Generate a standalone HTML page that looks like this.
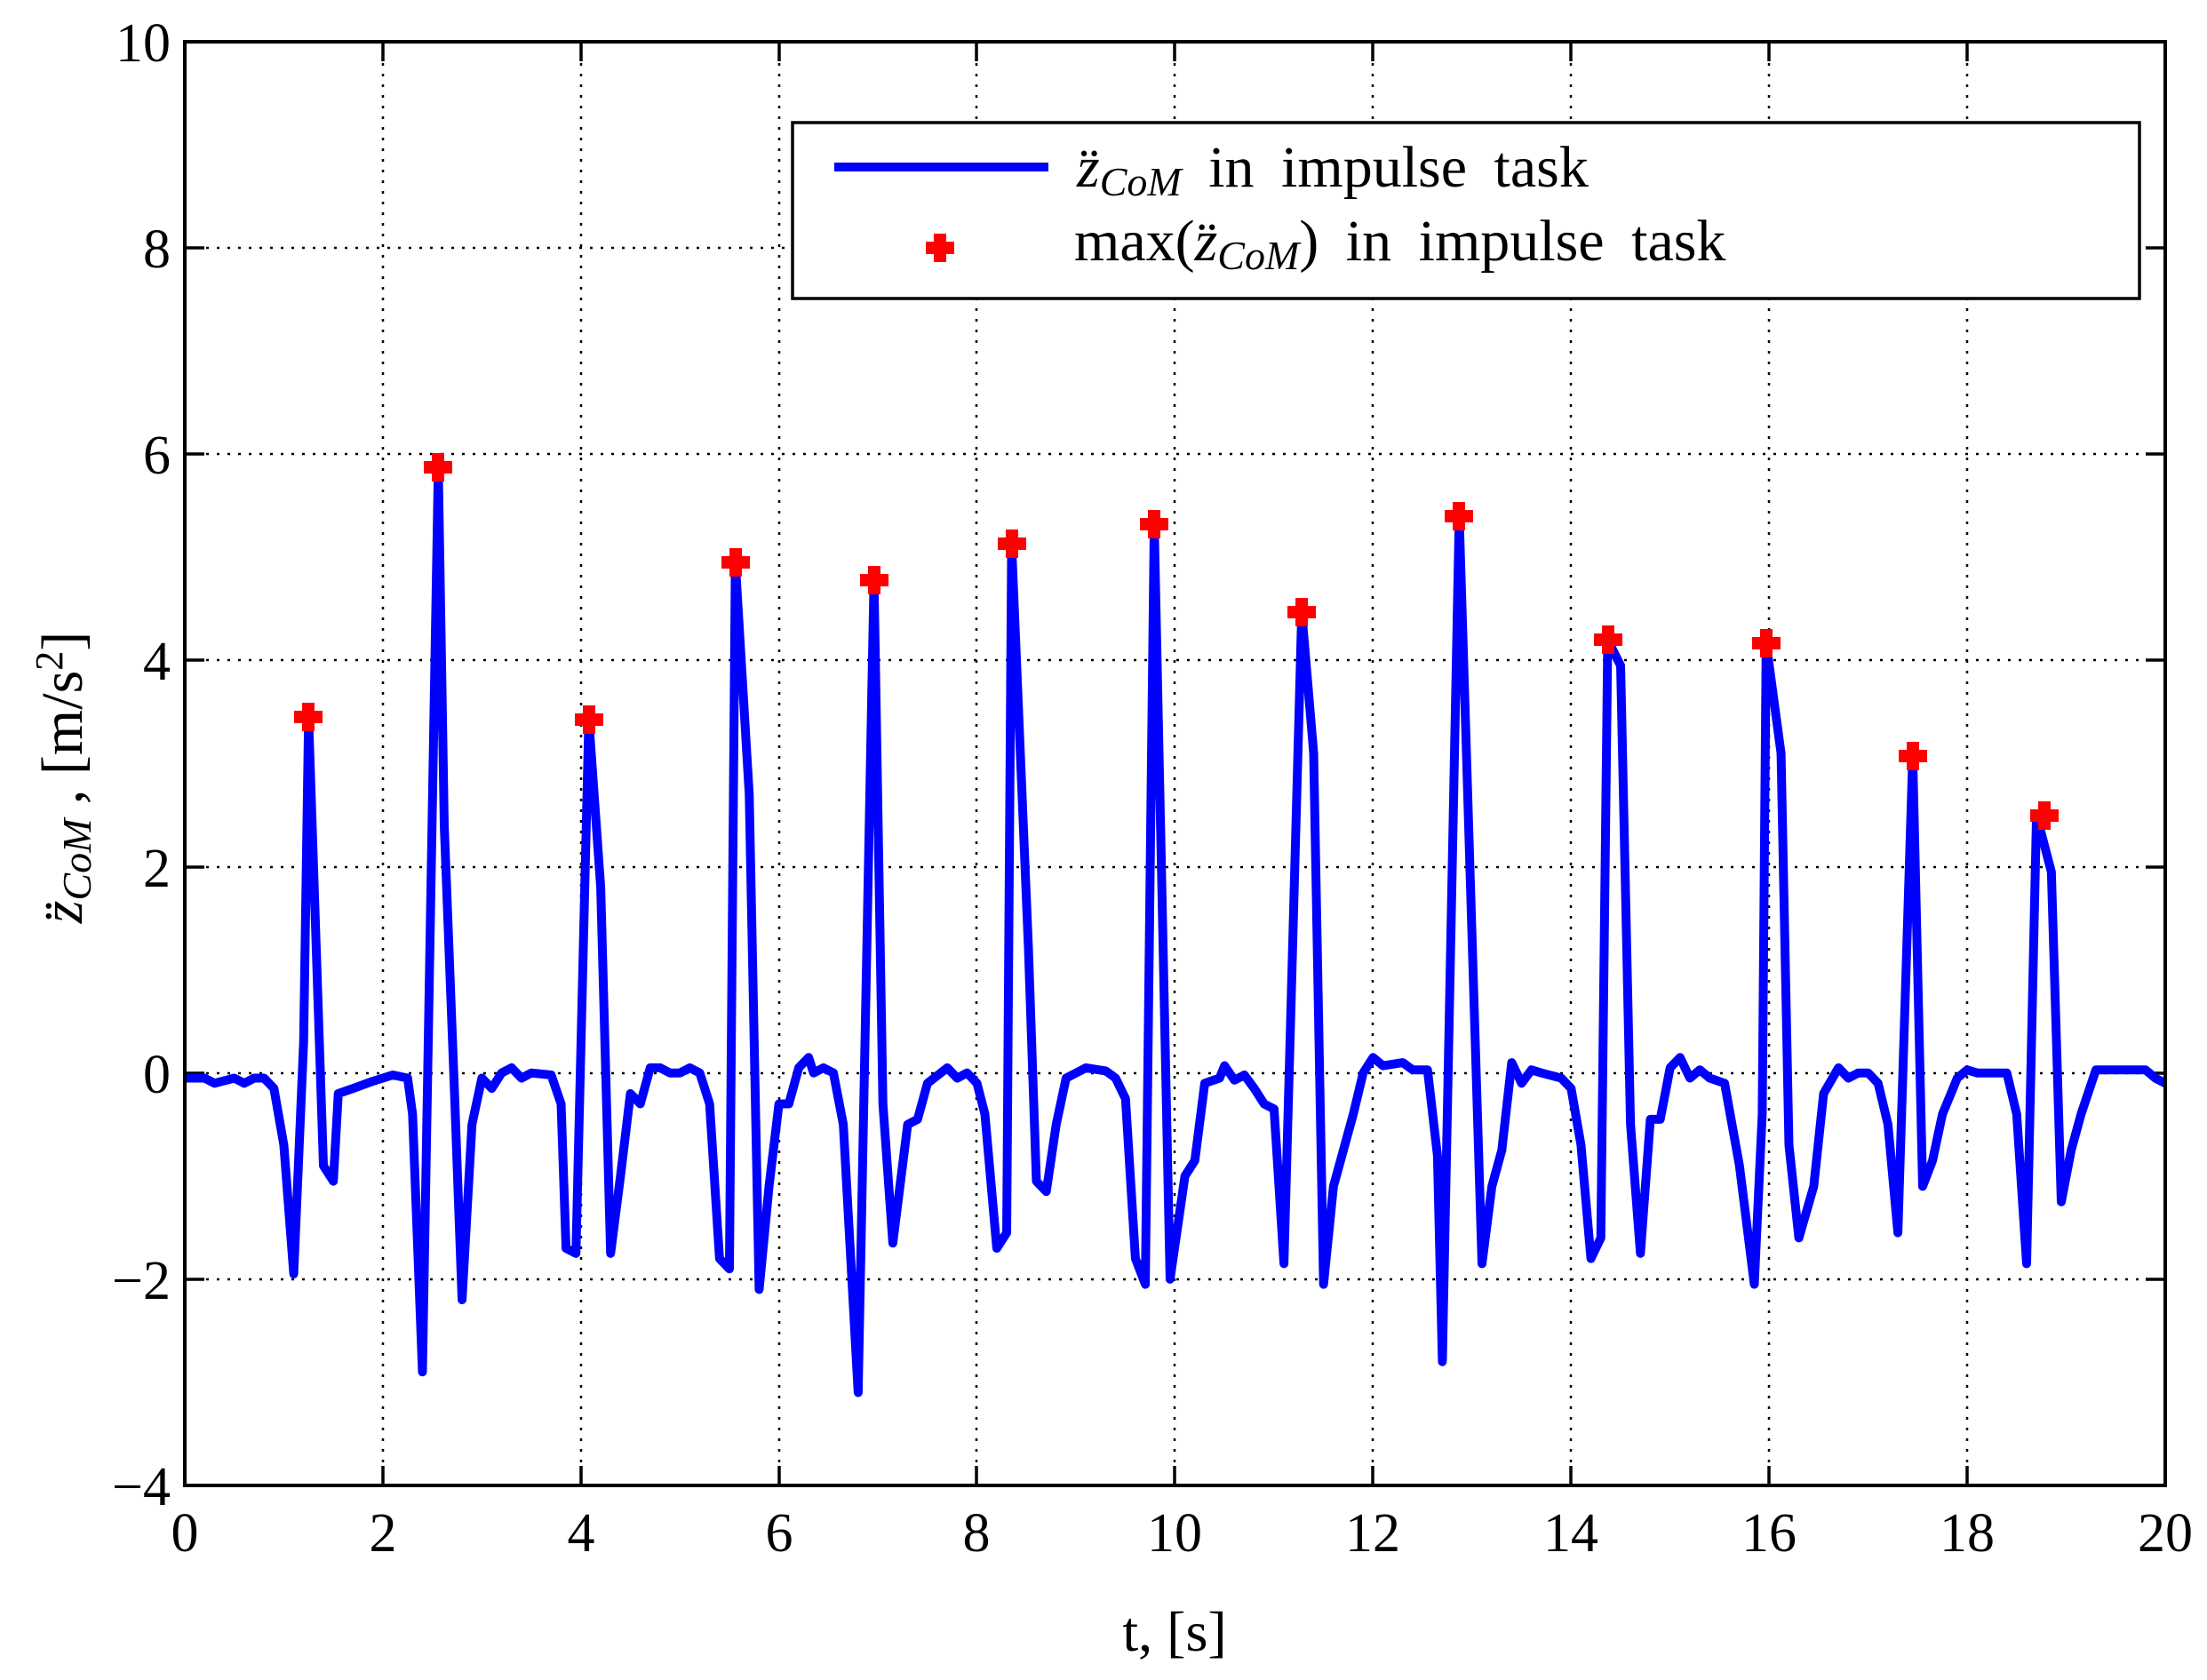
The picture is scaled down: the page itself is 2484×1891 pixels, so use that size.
<!DOCTYPE html>
<html><head><meta charset="utf-8"><style>
html,body{margin:0;padding:0;background:#fff;}
svg{display:block;}
text{font-family:"Liberation Serif",serif;fill:#000;}
</style></head><body>
<svg width="2484" height="1891" viewBox="0 0 2484 1891" xmlns="http://www.w3.org/2000/svg">
<rect width="2484" height="1891" fill="#fff"/>
<g stroke="#000" stroke-width="2.5" stroke-dasharray="3,9">
<line x1="431" y1="47" x2="431" y2="1672"/><line x1="654" y1="47" x2="654" y2="1672"/>
<line x1="877" y1="47" x2="877" y2="1672"/><line x1="1099" y1="47" x2="1099" y2="1672"/>
<line x1="1322" y1="47" x2="1322" y2="1672"/><line x1="1545" y1="47" x2="1545" y2="1672"/>
<line x1="1768" y1="47" x2="1768" y2="1672"/><line x1="1991" y1="47" x2="1991" y2="1672"/>
<line x1="2214" y1="47" x2="2214" y2="1672"/>
<line x1="208" y1="279" x2="2437" y2="279"/><line x1="208" y1="511" x2="2437" y2="511"/>
<line x1="208" y1="743" x2="2437" y2="743"/><line x1="208" y1="976" x2="2437" y2="976"/>
<line x1="208" y1="1208" x2="2437" y2="1208"/><line x1="208" y1="1440" x2="2437" y2="1440"/>
</g>
<g stroke="#000" stroke-width="3.5">
<path d="M431 1672v-22M654 1672v-22M877 1672v-22M1099 1672v-22M1322 1672v-22M1545 1672v-22M1768 1672v-22M1991 1672v-22M2214 1672v-22"/>
<path d="M431 47v22M654 47v22M877 47v22M1099 47v22M1322 47v22M1545 47v22M1768 47v22M1991 47v22M2214 47v22"/>
<path d="M208 279h22M208 511h22M208 743h22M208 976h22M208 1208h22M208 1440h22"/>
<path d="M2437 279h-22M2437 511h-22M2437 743h-22M2437 976h-22M2437 1208h-22M2437 1440h-22"/>
</g>
<g transform="translate(208,1207.7) scale(111.45,-116.07)">
<polyline fill="none" stroke="#0000ff" stroke-width="10" stroke-linejoin="round" vector-effect="non-scaling-stroke"
points="0,-0.05 0.2,-0.05 0.3,-0.1 0.5,-0.05 0.6,-0.1 0.7,-0.05 0.8,-0.05 0.9,-0.15 1.0,-0.7 1.1,-1.95 1.2,0.3 1.25,3.45 1.4,-0.9 1.5,-1.05 1.55,-0.2 1.7,-0.15 1.9,-0.08 2.1,-0.02 2.25,-0.05 2.3,-0.4 2.4,-2.9 2.56,5.87 2.62,2.4 2.72,-0.1 2.8,-2.2 2.9,-0.5 3.0,-0.05 3.1,-0.15 3.2,0.0 3.3,0.05 3.4,-0.05 3.5,0 3.7,-0.02 3.8,-0.3 3.85,-1.7 3.95,-1.75 4.08,3.43 4.2,1.8 4.3,-1.75 4.4,-1 4.5,-0.2 4.6,-0.3 4.7,0.05 4.8,0.05 4.9,0 5.0,0 5.1,0.05 5.2,0 5.3,-0.3 5.4,-1.8 5.5,-1.9 5.56,4.95 5.7,2.7 5.8,-2.1 5.9,-1.1 6.0,-0.3 6.1,-0.3 6.2,0.05 6.3,0.15 6.35,0 6.45,0.05 6.55,0 6.65,-0.5 6.8,-3.1 6.96,4.78 7.05,-0.3 7.15,-1.65 7.3,-0.5 7.4,-0.45 7.5,-0.1 7.7,0.05 7.8,-0.05 7.9,0 8.0,-0.1 8.08,-0.4 8.2,-1.7 8.3,-1.55 8.35,5.13 8.52,1.2 8.6,-1.05 8.7,-1.15 8.8,-0.5 8.9,-0.05 9.1,0.05 9.3,0.02 9.4,-0.05 9.5,-0.25 9.6,-1.8 9.7,-2.05 9.79,5.32 9.95,-2.0 10.1,-1 10.2,-0.85 10.3,-0.1 10.45,-0.05 10.5,0.07 10.6,-0.07 10.7,-0.02 10.8,-0.15 10.9,-0.3 11.0,-0.35 11.1,-1.85 11.28,4.47 11.4,3.1 11.5,-2.05 11.6,-1.1 11.8,-0.4 11.9,0 12.0,0.15 12.1,0.07 12.3,0.1 12.4,0.03 12.55,0.03 12.65,-0.8 12.7,-2.8 12.87,5.4 13.1,-1.85 13.2,-1.1 13.3,-0.75 13.4,0.1 13.5,-0.1 13.6,0.03 13.7,0 13.9,-0.05 14.0,-0.15 14.1,-0.7 14.2,-1.8 14.3,-1.6 14.37,4.2 14.5,3.95 14.6,-0.5 14.7,-1.75 14.8,-0.45 14.9,-0.45 15.0,0.05 15.1,0.15 15.2,-0.05 15.3,0.03 15.4,-0.05 15.55,-0.1 15.7,-0.9 15.85,-2.05 15.93,-0.4 15.97,4.17 16.12,3.1 16.2,-0.7 16.3,-1.6 16.45,-1.1 16.55,-0.2 16.7,0.05 16.8,-0.05 16.9,0 17.0,0 17.1,-0.1 17.2,-0.5 17.3,-1.55 17.45,3.07 17.55,-1.1 17.65,-0.85 17.75,-0.4 17.9,-0.05 18.0,0.03 18.1,0 18.4,0 18.5,-0.4 18.6,-1.85 18.7,2.5 18.85,1.95 18.95,-1.25 19.05,-0.75 19.15,-0.4 19.3,0.03 19.6,0.03 19.8,0.03 19.9,-0.05 20,-0.1"/>
</g>
<defs><path id="m" d="M-7,-16h14v9h9v14h-9v9h-14v-9h-9v-14h9z" fill="#ff0000"/></defs>
<use href="#m" x="347" y="807"/><use href="#m" x="493" y="526"/><use href="#m" x="663" y="810"/>
<use href="#m" x="828" y="633"/><use href="#m" x="984" y="653"/><use href="#m" x="1139" y="612"/>
<use href="#m" x="1299" y="590"/><use href="#m" x="1465" y="689"/><use href="#m" x="1642" y="581"/>
<use href="#m" x="1810" y="720"/><use href="#m" x="1988" y="724"/><use href="#m" x="2153" y="851"/>
<use href="#m" x="2301" y="918"/>
<rect x="208" y="47" width="2229" height="1625" fill="none" stroke="#000" stroke-width="4"/>
<g font-size="62" text-anchor="end">
<text x="192" y="69">10</text><text x="192" y="301">8</text><text x="192" y="533">6</text>
<text x="192" y="765">4</text><text x="192" y="998">2</text><text x="192" y="1230">0</text>
<text x="192" y="1462">−2</text><text x="192" y="1694">−4</text>
</g>
<g font-size="62" text-anchor="middle">
<text x="208" y="1746">0</text><text x="431" y="1746">2</text><text x="654" y="1746">4</text>
<text x="877" y="1746">6</text><text x="1099" y="1746">8</text><text x="1322" y="1746">10</text>
<text x="1545" y="1746">12</text><text x="1768" y="1746">14</text><text x="1991" y="1746">16</text>
<text x="2214" y="1746">18</text><text x="2437" y="1746">20</text>
</g>
<text x="1322" y="1858" font-size="64" text-anchor="middle">t, [s]</text>
<text transform="translate(92,875) rotate(-90)" font-size="66" text-anchor="middle"><tspan font-style="italic">z̈</tspan><tspan font-style="italic" font-size="46" dy="10">CoM</tspan><tspan dy="-10"> , [m/s</tspan><tspan font-size="44" dy="-22">2</tspan><tspan dy="22">]</tspan></text>
<rect x="892" y="138" width="1516" height="198" fill="#fff" stroke="#000" stroke-width="3.5"/>
<line x1="939" y1="188" x2="1180" y2="188" stroke="#0000ff" stroke-width="10"/>
<use href="#m" x="1058" y="279"/>
<text x="1212" y="210" font-size="66" word-spacing="14"><tspan font-style="italic">z̈</tspan><tspan font-style="italic" font-size="46" dy="10">CoM</tspan><tspan dy="-10">  in  impulse task</tspan></text>
<text x="1209" y="293" font-size="66" word-spacing="14">max(<tspan font-style="italic">z̈</tspan><tspan font-style="italic" font-size="46" dy="10">CoM</tspan><tspan dy="-10">)  in  impulse task</tspan></text>
</svg>
</body></html>
